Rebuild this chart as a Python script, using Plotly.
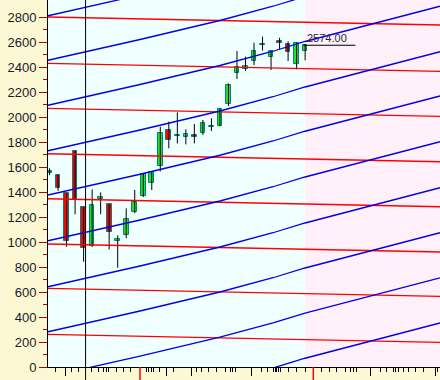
import plotly.graph_objects as go

# ---------------- data ----------------
idx = list(range(31))
opens  = [1562, 1540, 1389, 1730, 1277,  968, 1345, 1301, 1012, 1053, 1237, 1368, 1469, 1611, 1896, 1850,
          1837, 1852, 1869, 1920, 1931, 2101, 2349, 2381, 2451, 2575, 2477, 2605, 2581, 2421, 2531]
highs  = [1590, 1540, 1389, 1730, 1277, 1421, 1397, 1301, 1053, 1269, 1416, 1545, 1560, 1922, 1963, 2037,
          1902, 1944, 1976, 1989, 2070, 2269, 2528, 2483, 2594, 2643, 2528, 2634, 2605, 2595, 2584]
lows   = [1535, 1410,  962, 1222,  842,  960, 1222,  941,  794, 1030, 1230, 1360, 1416, 1565, 1749, 1789,
          1781, 1789, 1856, 1888, 1925, 2088, 2304, 2370, 2416, 2531, 2376, 2544, 2448, 2381, 2453]
closes = [1562, 1429, 1008, 1333,  949, 1293, 1360, 1077, 1025, 1181, 1320, 1541, 1560, 1869, 1816, 1858,
          1861, 1846, 1949, 1930, 2064, 2253, 2403, 2405, 2525, 2583, 2528, 2589, 2523, 2595, 2574]

# blue rising channel lines: common shape (rise from start) and start levels
blue_x = [-0.18, 10.62, 20.0, 26.23, 29.99, 45.83]
blue_rise = [0, 166, 318, 432, 510, 792]
blue_starts = [-440, -79, 282, 642, 1010, 1376, 1730, 2094, 2454, 2810]

# red slightly falling lines
red_x = [-0.18, 45.83]
red_drop = [0, -64]
red_starts = [261, 629, 984, 1346, 1706, 2069, 2429, 2800]

# y ticks
y_major = list(range(0, 2801, 200))
y_minor = list(range(100, 2900, 200))

# x ticks (time axis, bar-index units)
x_long = [1.82, 13.76, 16.69, 23.73, 37.73, 45.25]
x_short = [0.65, 2.61, 3.38, 4.95, 5.73, 6.31, 6.63, 6.90, 7.89, 8.66, 9.45, 11.33, 11.60, 11.91, 12.18,
           12.96, 14.53, 17.28, 17.86, 18.64, 19.62, 20.60, 21.19, 21.46, 21.77, 24.82, 25.61, 26.27,
           26.47, 26.67, 26.85, 27.05, 28.03, 29.01, 29.99, 31.87, 32.81, 33.71, 34.68, 35.27, 35.66,
           36.06, 38.79, 39.58, 40.35, 40.55, 40.94, 41.53, 42.11, 42.90, 43.87, 45.56]
x_red_marks = [10.62, 30.96]
cursor_x = 4.23
future_start = 29.99
price_line_x = [29.8, 35.9]
x_range = [-0.18, 45.83]
y_range = [0, 2936]

# ---------------- figure ----------------
fig = go.Figure()

# wicks
wx, wy = [], []
for i, h, l in zip(idx, highs, lows):
    wx += [i, i, None]
    wy += [l, h, None]
fig.add_trace(go.Scatter(x=wx, y=wy, mode="lines", line=dict(color="black", width=1),
                         hoverinfo="skip", showlegend=False))

# bodies
GREEN, RED, TEAL = "#1ee61e", "#ff0000", "#008080"
base, height, colors = [], [], []
for o, c in zip(opens, closes):
    lo, hi = min(o, c), max(o, c)
    h = max(hi - lo, 12)
    base.append(lo if hi - lo >= 12 else (lo + hi) / 2 - 6)
    height.append(h)
    colors.append(GREEN if c > o else (RED if c < o else TEAL))
fig.add_trace(go.Bar(x=idx, y=height, base=base, width=0.55,
                     marker=dict(color=colors, line=dict(color=TEAL, width=1)),
                     hoverinfo="skip", showlegend=False))

# red lines
for s in red_starts:
    fig.add_trace(go.Scatter(x=red_x, y=[s + d for d in red_drop], mode="lines",
                             line=dict(color="#ff0000", width=1.3), hoverinfo="skip", showlegend=False))
# blue lines
for s in blue_starts:
    fig.add_trace(go.Scatter(x=blue_x, y=[s + r for r in blue_rise], mode="lines",
                             line=dict(color="#0000e6", width=1.3), hoverinfo="skip", showlegend=False))

# last price line
fig.add_trace(go.Scatter(x=price_line_x, y=[closes[-1]] * 2, mode="lines",
                         line=dict(color="black", width=1), hoverinfo="skip", showlegend=False))

shapes = [
    dict(type="rect", xref="x", yref="paper", x0=future_start, x1=x_range[1] + 1, y0=0, y1=1,
         fillcolor="#fff0fa", line=dict(width=0), layer="below"),
    dict(type="line", xref="x", yref="paper", x0=cursor_x, x1=cursor_x, y0=-0.0354, y1=1,
         line=dict(color="black", width=1)),
]
for xr in x_red_marks:
    shapes.append(dict(type="line", xref="x", yref="paper", x0=xr, x1=xr, y0=-0.0354, y1=0,
                       line=dict(color="#ff0000", width=1.5)))

fig.update_layout(
    width=440, height=380, autosize=False,
    margin=dict(l=48, r=0, t=0, b=13, pad=0),
    paper_bgcolor="#fdf8d4", plot_bgcolor="#f0ffff",
    showlegend=False, bargap=0, barmode="overlay",
    shapes=shapes,
    annotations=[dict(x=29.95, y=closes[-1], xref="x", yref="y", text=f"{closes[-1]:.2f}",
                      showarrow=False, xanchor="left", yanchor="bottom", yshift=-1,
                      font=dict(family="Arial, Liberation Sans", size=11, color="#2a2a3a"))],
    font=dict(family="Arial, Liberation Sans, sans-serif"),
)
fig.update_xaxes(range=x_range, showgrid=False, zeroline=False, showline=True, linecolor="black",
                 linewidth=1, ticks="outside", tickmode="array", tickvals=x_long, ticklen=8,
                 tickcolor="black", tickwidth=1, showticklabels=False, automargin=False,
                 minor=dict(tickmode="array", tickvals=x_short, ticklen=4, tickcolor="black",
                            tickwidth=1, ticks="outside"))
fig.update_yaxes(range=y_range, showgrid=False, zeroline=False, showline=True, linecolor="black",
                 linewidth=1, ticks="outside", tickmode="array", tickvals=y_major,
                 ticktext=[str(v) for v in y_major], ticklen=8, tickcolor="#c00000", tickwidth=1,
                 tickfont=dict(family="Arial, Liberation Sans", size=13, color="#1a1a2a"),
                 automargin=False,
                 minor=dict(tickmode="array", tickvals=y_minor, ticklen=4, tickcolor="#c00000",
                            tickwidth=1, ticks="outside"))

fig.write_html("out.html")
